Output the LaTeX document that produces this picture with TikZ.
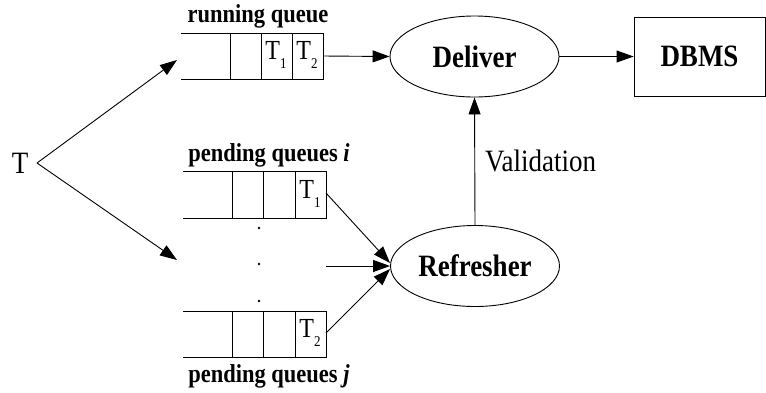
\documentclass[tikz,border=0pt]{standalone}
\usepackage{fontspec}
\setmainfont{Liberation Serif}
\usetikzlibrary{shapes.geometric,arrows.meta,calc}

% text a little taller than wide, as set in the drawing
\newcommand{\tall}[1]{\scalebox{1}[1.15]{#1}}
\newcommand{\tsub}[1]{\tall{T\raisebox{-0.32em}{\fontsize{13}{13}\selectfont #1}}}

\tikzset{
  x=1pt, y=-1pt,
  wire/.style={line width=0.9pt},
  arr/.style={wire, -{Triangle[length=17pt,width=12pt]}},
  proc/.style={ellipse, draw, line width=0.9pt, minimum width=169pt, minimum height=81pt,
               inner sep=0pt, font=\fontsize{27}{30}\selectfont\bfseries},
  qlabel/.style={font=\fontsize{22.5}{25}\selectfont\bfseries, inner sep=0pt},
  cell/.style={font=\fontsize{24}{26}\selectfont, inner sep=0pt},
}

\begin{document}
\begin{tikzpicture}
\useasboundingbox (0,0) rectangle (766,392);

% source
\node[font=\fontsize{27}{30}\selectfont, inner sep=0pt] (T) at (20,163) {\tall{T}};
\coordinate (fork) at (37,163);
\coordinate (toRun) at (177,60);
\coordinate (toPend) at (177,260);

% running queue
\node[qlabel] (runlbl) at (258,16) {\tall{running queue}};
\draw[wire] (181,33) -- (323,33) -- (323,79) -- (181,79);
\draw[wire] (230,33) -- (230,79);
\draw[wire] (261,33) -- (261,79);
\draw[wire] (292,33) -- (292,79);
\node[cell] (r1) at (276,55) {\tsub{1}};
\node[cell] (r2) at (307,55) {\tsub{2}};
\coordinate (runOut) at (323,56);

% pending queue i
\node[qlabel] (pilbl) at (269,155) {\tall{pending queues \textit{i}}};
\draw[wire] (183,171) -- (326,171) -- (326,218) -- (183,218);
\draw[wire] (232,171) -- (232,218);
\draw[wire] (263,171) -- (263,218);
\draw[wire] (295,171) -- (295,218);
\node[cell] (p1) at (310,194) {\tsub{1}};
\coordinate (piOut) at (326,193);

% elided queues
\fill (259,228) circle (1.3);
\fill (259,264) circle (1.3);
\fill (259,301) circle (1.3);
\coordinate (midOut) at (326,266);

% pending queue j
\draw[wire] (183,311) -- (326,311) -- (326,357) -- (183,357);
\draw[wire] (232,311) -- (232,357);
\draw[wire] (263,311) -- (263,357);
\draw[wire] (295,311) -- (295,357);
\node[cell] (p2) at (310,333) {\tsub{2}};
\coordinate (pjOut) at (326,333);
\node[qlabel] (pjlbl) at (269,376) {\tall{pending queues \textit{j}}};

% processes
\node[proc] (deliver) at (474.5,56.5) {\tall{Deliver}};
\node[proc] (refresher) at (475,266) {\tall{Refresher}};
\node[draw, line width=0.9pt, minimum width=131pt, minimum height=79pt, inner sep=0pt,
      font=\fontsize{27}{30}\selectfont\bfseries] (dbms) at (699.5,56.5) {\tall{DBMS}};

% connectors
\draw[arr] (fork) -- (toRun);
\draw[arr] (fork) -- (toPend);
\draw[arr] (runOut) -- (deliver.west);
\draw[arr] (deliver.east) -- (dbms.west);
\draw[arr] (piOut) -- ($(refresher.west)+(0,-3)$);
\draw[arr] (midOut) -- (refresher.west);
\draw[arr] (pjOut) -- ($(refresher.west)+(0,3)$);
\draw[arr] (refresher.north) -- (deliver.south)
  node[pos=0.5, right=10pt, font=\fontsize{27}{30}\selectfont, inner sep=0pt] (val) {\tall{Validation}};
\end{tikzpicture}
\end{document}
